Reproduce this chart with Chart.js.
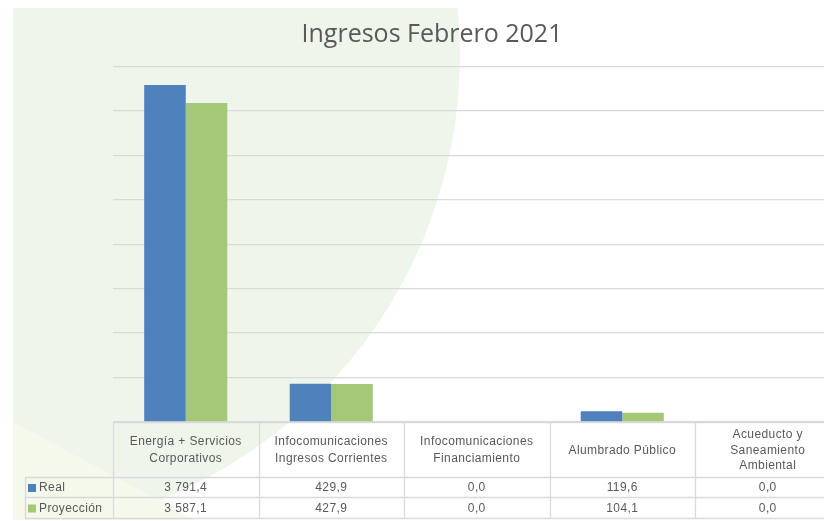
<!DOCTYPE html>
<html><head><meta charset="utf-8">
<script src="https://cdn.jsdelivr.net/npm/chart.js@4"></script>
<style>
html,body{margin:0;padding:0;background:#fff;overflow:hidden;width:824px;height:521px}
#bg{position:absolute;left:13px;top:8px;width:470px;height:512px;overflow:hidden}
#bg::before{content:'';position:absolute;left:-513px;top:-433px;width:960px;height:960px;border-radius:50%;background:#eef6ec}
#bg2{position:absolute;left:13px;top:8px;width:300px;height:512px;background:#f5f9ec;clip-path:polygon(0 414px,182px 512px,0 512px)}
#wrap{position:absolute;left:0;top:0;width:842px;height:521px}
</style></head>
<body>
<div id="bg"></div>
<div id="bg2"></div>
<div id="wrap"><canvas id="c" width="842" height="521"></canvas></div>
<script>
const title = 'Ingresos Febrero 2021';
const categories = [
  ["Energía + Servicios","Corporativos"],
  ["Infocomunicaciones","Ingresos Corrientes"],
  ["Infocomunicaciones","Financiamiento"],
  ["Alumbrado Público"],
  ["Acueducto y","Saneamiento","Ambiental"]
];
const seriesNames = ["Real","Proyección"];
const real = [3791.4, 429.9, 0.0, 119.6, 0.0];
const proyeccion = [3587.1, 427.9, 0.0, 104.1, 0.0];
const yMax = 4000;
const yStep = 500;
const colors = ['#4f81bd','#a5c878'];

function fmt(v){
  const parts = v.toFixed(1).split('.');
  const int = parts[0].replace(/\B(?=(\d{3})+(?!\d))/g,' ');
  return int + ',' + parts[1];
}

const tablePlugin = {
  id:'dataTable',
  afterDraw(chart){
    const ctx = chart.ctx, x = chart.scales.x, ca = chart.chartArea;
    const colW = x.getPixelForValue(1) - x.getPixelForValue(0);
    const left = x.getPixelForValue(0) - colW/2;
    const n = categories.length;
    const right = left + colW*n;
    const top = Math.round(ca.bottom);
    const hdrB = top + 55, r1B = hdrB + 20, r2B = r1B + 21;
    const legL = 25;
    ctx.save();
    ctx.strokeStyle = '#d9d9d9';
    ctx.lineWidth = 1.3;
    const hl = (y,x0,x1)=>{ctx.beginPath();ctx.moveTo(x0,y+0.5);ctx.lineTo(x1,y+0.5);ctx.stroke();};
    const vl = (xx,y0,y1)=>{ctx.beginPath();ctx.moveTo(Math.round(xx)+0.5,y0);ctx.lineTo(Math.round(xx)+0.5,y1);ctx.stroke();};
    hl(top,left,right); hl(hdrB,legL,right); hl(r1B,legL,right); hl(r2B,legL,right);
    vl(legL,hdrB,r2B+1);
    for(let i=0;i<=n;i++) vl(left+colW*i, top, r2B+1);
    ctx.fillStyle = '#595959';
    ctx.textAlign = 'center';
    ctx.textBaseline = 'middle';
    ctx.font = '12px "Liberation Sans"';
    try{ctx.letterSpacing='0.4px';}catch(e){}
    const hc = (top+hdrB)/2 + 1;
    categories.forEach((lines,i)=>{
      const cx = x.getPixelForValue(i);
      const lh = lines.length>2 ? 15.5 : 17;
      lines.forEach((t,j)=>{
        ctx.fillText(t, cx, hc + (j-(lines.length-1)/2)*lh);
      });
      ctx.fillText(fmt(real[i]), cx, (hdrB+r1B)/2+1);
      ctx.fillText(fmt(proyeccion[i]), cx, (r1B+r2B)/2+1);
    });
    ctx.textAlign='left';
    [[real,(hdrB+r1B)/2+1],[proyeccion,(r1B+r2B)/2+1]].forEach((row,k)=>{
      ctx.fillStyle = colors[k];
      ctx.fillRect(28, row[1]-4, 8, 8);
      ctx.fillStyle = '#595959';
      ctx.fillText(seriesNames[k], 39, row[1]);
    });
    ctx.restore();
  }
};

new Chart(document.getElementById('c'),{
  type:'bar',
  data:{
    labels: categories,
    datasets:[
      {label:seriesNames[0], data:real, backgroundColor:colors[0], borderWidth:0, categoryPercentage:0.571, barPercentage:1},
      {label:seriesNames[1], data:proyeccion, backgroundColor:colors[1], borderWidth:0, categoryPercentage:0.571, barPercentage:1}
    ]
  },
  options:{
    responsive:false,
    animation:false,
    devicePixelRatio:1,
    layout:{padding:{left:23.5,right:1.5,top:0,bottom:99}},
    plugins:{
      legend:{display:false},
      tooltip:{enabled:false},
      title:{display:true,text:title,color:'#595959',font:{family:'"Open Sans"',size:25,weight:'normal',lineHeight:1.2},padding:{top:20,bottom:16.4}}
    },
    scales:{
      x:{display:false, offset:true},
      y:{min:0,max:yMax,ticks:{stepSize:yStep,display:false},
         grid:{color:'#d9d9d9',lineWidth:1.3,drawTicks:false},
         border:{display:false},
         afterFit(s){s.width=89.5;}}
    }
  },
  plugins:[tablePlugin]
});
</script>
</body></html>
